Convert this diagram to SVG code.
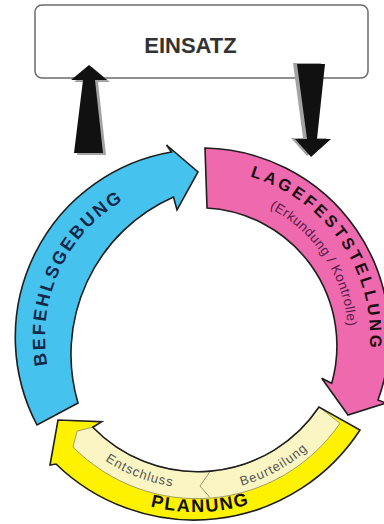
<svg xmlns="http://www.w3.org/2000/svg" xmlns:xlink="http://www.w3.org/1999/xlink" width="384" height="524" viewBox="0 0 384 524">
  <style>
    .band { stroke: #1e1e1e; stroke-width: 1.6; stroke-linejoin: miter; }
    .big { font-family: "Liberation Sans", Arial, sans-serif; font-weight: bold; }
    .small { font-family: "Liberation Sans", Arial, sans-serif; }
    .blk { fill: #111111; }
    .shd { fill: #a3a3a3; }
  </style>
  <defs>
    <path id="pBefehl" d="M73.6,427.6 A158,158 0 0 1 189.2,179.6"/>
    <path id="pLage" d="M190.0,170.5 A167,167 0 0 1 353.7,409.0"/>
    <path id="pErk" d="M194.4,192.3 A145,145 0 0 1 332.7,401.9"/>
    <path id="pPlan" d="M35.5,421.9 A188,188 0 0 0 361.1,414.0"/>
    <path id="pEnt" d="M33.1,350.1 A166,166 0 0 0 300.1,452.0"/>
    <path id="pBeur" d="M109.0,467.7 A168,168 0 0 0 364.0,327.5"/>
    <path id="yellowShape" d="M360,430 A198,198 0 0 1 56,464 L50,465 L58,420 L101.7,421.7 L92.8,427.2 A146,146 0 0 0 319,407 Z"/>
  </defs>

  <g id="einsatz">
    <rect x="35" y="5" width="333" height="73" rx="7" ry="7" fill="#ffffff" stroke="#6b6b6b" stroke-width="1.5"/>
    <text class="big" x="190.5" y="53" font-size="22" fill="#333333" text-anchor="middle">EINSATZ</text>
  </g>

  <g id="connectors">
    <polygon class="shd" transform="translate(3,2)" points="89,65 107,80 95,80 103,153 74,153 83,80 71,80"/>
    <polygon class="blk" points="89,65 107,80 95,80 103,153 74,153 83,80 71,80"/>
    <polygon class="shd" transform="translate(-4,-1)" points="297,64 325,64 317,139 331,139 311,157 295,139 307,139"/>
    <polygon class="blk" points="297,64 325,64 317,139 331,139 311,157 295,139 307,139"/>
  </g>

  <g id="befehlsgebung">
    <path class="band" fill="#45c3ee" d="M37,425 A188,188 0 0 1 171.5,152 L166.5,145 L198,172 L177,210 L173.5,197 A172,172 0 0 0 78,403 Z"/>
    <text class="big" font-size="18" letter-spacing="2.4" fill="#14284a">
      <textPath xlink:href="#pBefehl" href="#pBefehl" startOffset="50%" text-anchor="middle">BEFEHLSGEBUNG</textPath>
    </text>
  </g>

  <g id="lagefeststellung">
    <path class="band" fill="#ee69ae" d="M205,148 A188,188 0 0 1 378,400 L386,403 L348,415 L321.7,378.3 L331.7,383.3 A138,138 0 0 0 207,208 Z"/>
    <text class="big" font-size="16.5" letter-spacing="3.2" fill="#1a0d14">
      <textPath xlink:href="#pLage" href="#pLage" startOffset="50%" text-anchor="middle">LAGEFESTSTELLUNG</textPath>
    </text>
    <text class="small" font-size="13.5" letter-spacing="0.4" fill="#5a1c4a">
      <textPath xlink:href="#pErk" href="#pErk" startOffset="50%" text-anchor="middle">(Erkundung / Kontrolle)</textPath>
    </text>
  </g>

  <g id="planung">
    <use xlink:href="#yellowShape" href="#yellowShape" fill="#fff200" stroke="none"/>
    <path fill="#fbf5c4" stroke="#8c8a6a" stroke-width="0.8" d="M319,407 L340,423.3 A174,174 0 0 1 73,447 L77.1,431.1 L92.8,427.2 A146,146 0 0 0 319,407 Z"/>
    <polyline points="211,470 200,486 210,497.5" fill="none" stroke="#8c8a6a" stroke-width="0.9"/>
    <use xlink:href="#yellowShape" href="#yellowShape" class="band" fill="none"/>
    <text class="big" font-size="18" letter-spacing="1.8" fill="#111111">
      <textPath xlink:href="#pPlan" href="#pPlan" startOffset="50%" text-anchor="middle">PLANUNG</textPath>
    </text>
    <text class="small" font-size="13" letter-spacing="1" fill="#555555">
      <textPath xlink:href="#pEnt" href="#pEnt" startOffset="50%" text-anchor="middle">Entschluss</textPath>
    </text>
    <text class="small" font-size="13" letter-spacing="1" fill="#555555">
      <textPath xlink:href="#pBeur" href="#pBeur" startOffset="50%" text-anchor="middle">Beurteilung</textPath>
    </text>
  </g>
</svg>
